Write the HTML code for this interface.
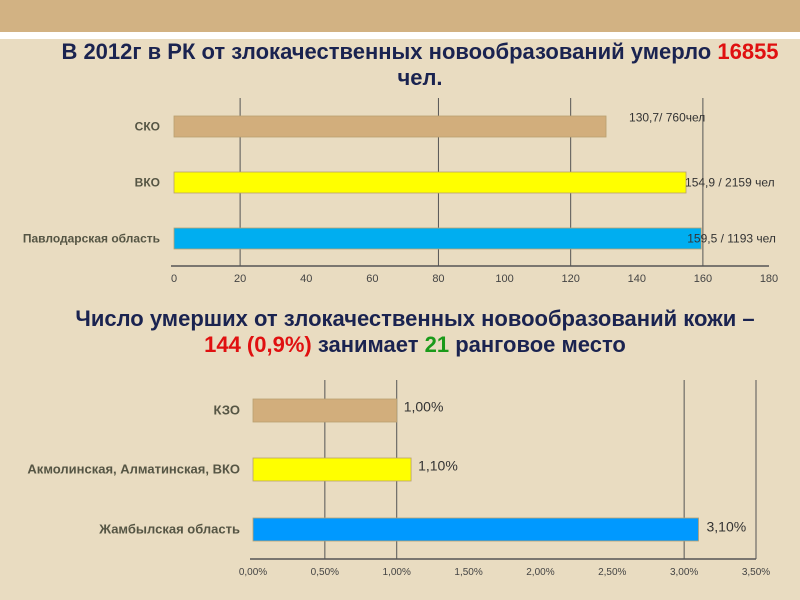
<!DOCTYPE html>
<html><head><meta charset="utf-8"><style>
body{margin:0;width:800px;height:600px;background:#e9dcc1;overflow:hidden;font-family:"Liberation Sans",sans-serif;position:relative}
.t{position:absolute;font-weight:bold;color:#1a2350;text-align:center;font-size:22px;line-height:26px;white-space:nowrap}
</style></head><body>
<div style="position:absolute;left:0;top:0;width:800px;height:32px;background:#d2b283"></div>
<div style="position:absolute;left:0;top:32px;width:800px;height:7px;background:#fff"></div>
<div class="t" style="left:20px;top:39px;width:800px">В 2012г в РК от злокачественных новообразований умерло <span style="color:#e01010">16855</span><br>чел.</div>
<div class="t" style="left:15px;top:306px;width:800px">Число умерших от злокачественных новообразований кожи –<br><span style="color:#e01010">144 (0,9%)</span> занимает <span style="color:#1a9a1a">21</span> ранговое место</div>
<svg id="c" width="800" height="600" style="position:absolute;left:0;top:0"></svg>
<script>
const cats1=["СКО","ВКО","Павлодарская область"];
const vals1=[130.7,154.9,159.5];
const labels1=["130,7/ 760чел","154,9 / 2159 чел","159,5 / 1193 чел"];
const ticks1=[0,20,40,60,80,100,120,140,160,180];
const grid1=[20,80,120,160];
const cats2=["КЗО","Акмолинская, Алматинская, ВКО","Жамбылская область"];
const vals2=[1.0,1.1,3.1];
const labels2=["1,00%","1,10%","3,10%"];
const ticks2=[0,0.5,1,1.5,2,2.5,3,3.5];
const tickLabels2=["0,00%","0,50%","1,00%","1,50%","2,00%","2,50%","3,00%","3,50%"];
const grid2=[0.5,1,3,3.5];
const colors=["#d2ae7c","#ffff00","#00aef0"];
const colors2=["#d2ae7c","#ffff00","#0099ff"];
const svg=document.getElementById('c');const NS='http://www.w3.org/2000/svg';
function el(t,a){const e=document.createElementNS(NS,t);for(const k in a)e.setAttribute(k,a[k]);svg.appendChild(e);return e;}
function chart(o){
 const x=v=>o.x0+(v-o.min)/(o.max-o.min)*(o.x1-o.x0);
 o.grid.forEach(g=>{const l=el('line',{x1:x(g),x2:x(g),y1:o.top,y2:o.axisY,stroke:'#555','stroke-width':1});
 
 });
 const ax=el('line',{x1:o.x0-3,x2:o.x1,y1:o.axisY,y2:o.axisY,stroke:'#555','stroke-width':1.5});
 
 
 o.ticks.forEach((t,i)=>{const tx=el('text',{x:x(t),y:o.axisY+16,'text-anchor':'middle','font-size':o.tfs,fill:'#444'});tx.textContent=o.tl[i];
 
 });
 o.vals.forEach((v,i)=>{const y=o.barY[i];
 const r=el('rect',{x:x(0),y:y,width:x(v)-x(0),height:o.bh,fill:o.colors[i],stroke:'#b8a070','stroke-width':0.8});
 
 
 const c=el('text',{x:o.x0-o.co,y:y+o.bh/2+4,'text-anchor':'end','font-size':o.cfs,'font-weight':'bold',fill:'#554'});c.textContent=o.cats[i];
 
 
 const lb=el('text',{x:x(v)+o.lo[i],y:y+o.bh/2+o.ly[i],'font-size':o.lfs,fill:'#333'});lb.textContent=o.labels[i];
 
 });
}
chart({x0:174,x1:769,min:0,max:180,top:98,axisY:266,grid:grid1,ticks:ticks1,tl:ticks1.map(String),vals:vals1,cats:cats1,labels:labels1,colors:colors,barY:[116,172,228],bh:21,tfs:11,lfs:12,cfs:12,co:14,lo:[23,-1,-14],ly:[-5,4,4]});
chart({x0:253,x1:756,min:0,max:3.5,top:380,axisY:559,grid:grid2,ticks:ticks2,tl:tickLabels2,vals:vals2,cats:cats2,labels:labels2,colors:colors2,barY:[399,458,518],bh:23,tfs:10,lfs:14,cfs:13,co:13,lo:[7,7,8],ly:[1,1,2]});
</script>
</body></html>
